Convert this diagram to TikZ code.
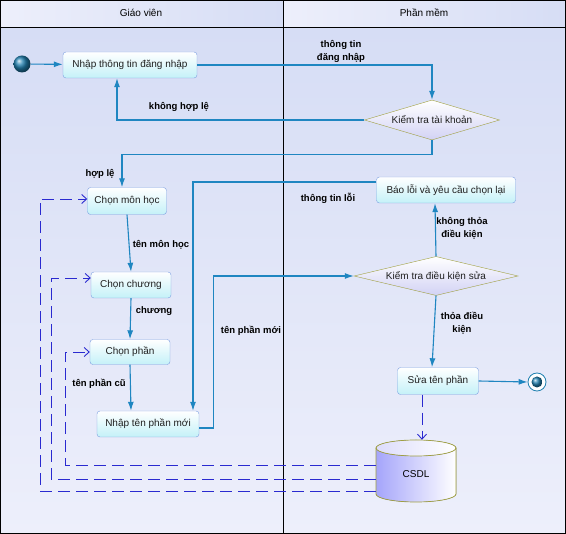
\documentclass[tikz,border=0pt]{standalone}
\usepackage{fontspec}
\setmainfont{Liberation Sans}
\usetikzlibrary{arrows.meta,shapes.geometric,calc}
\definecolor{flowc}{HTML}{1F86C1}
\definecolor{depc}{HTML}{2A2AD0}
\definecolor{actborder}{HTML}{7B9EE0}
\definecolor{actfill}{HTML}{C4F1F8}
\definecolor{decborder}{HTML}{A0A040}
\definecolor{decfill}{HTML}{D2D2F4}
\definecolor{lanetop}{HTML}{D6DDF5}
\definecolor{lanebot}{HTML}{EDEFFB}
\definecolor{startc}{HTML}{2080B0}
\begin{document}
\begin{tikzpicture}[x=1pt,y=-1pt,
  every node/.style={font=\fontsize{10}{12}\selectfont},
  act/.style={draw=actborder, rounded corners=3pt, top color=white, bottom color=actfill,
    minimum height=26pt, inner sep=2pt, text=black!88},
  dec/.style={diamond, draw=decborder, top color=white, bottom color=decfill,
    inner sep=0pt, aspect=4, text=black!88},
  flow/.style={draw=flowc, line width=1.1pt, -{Latex[length=9pt,width=6pt]}},
  dep/.style={draw=depc, line width=0.9pt, dash pattern=on 12pt off 6pt,
    -{Straight Barb[length=5pt,width=9pt,line width=0.9pt]}},
  lbl/.style={align=center, text=black, inner sep=1pt, font=\fontsize{9.5}{13}\selectfont\bfseries}]
\useasboundingbox (0,0) rectangle (566,534);
% lanes
\shade[top color=lanetop, bottom color=lanebot] (0,27) rectangle (283,534);
\shade[top color=lanetop, bottom color=lanebot] (283,27) rectangle (566,534);
\shade[left color=lanebot, right color=lanetop] (0,0) rectangle (283,27);
\shade[left color=lanebot, right color=lanetop] (283,0) rectangle (566,27);
\draw[line width=0.8pt] (0.4,0.4) rectangle (565.6,533.6);
\draw[line width=0.8pt] (0,27) -- (566,27);
\draw[line width=0.8pt] (283,0) -- (283,534);
\node (h1) at (141,13) {Giáo viên};
\node (h2) at (424,13) {Phần mềm};

% start / end
\shade[ball color=startc] (22,64) circle (8.5);
\node[circle, minimum size=17pt, inner sep=0pt] (start) at (22,64) {};
\node[circle, draw=startc, line width=0.8pt, fill=white, minimum size=18pt, inner sep=0pt] (end) at (537,382) {};
\shade[ball color=startc] (537,382) circle (5.5);

% activities
\node[act, minimum width=134pt] (login) at (130,65) {Nhập thông tin đăng nhập};
\node[dec, aspect=3.4, minimum width=135pt, minimum height=40pt] (chk1) at (432,120) {Kiểm tra tài khoản};
\node[act, minimum width=79pt, minimum height=27pt] (monhoc) at (127,201) {Chọn môn học};
\node[act, minimum width=80pt] (chuong) at (131,285) {Chọn chương};
\node[act, minimum width=80pt, minimum height=25pt] (phan) at (130,352) {Chọn phần};
\node[act, minimum width=102pt] (nhapmoi) at (148,424) {Nhập tên phần mới};
\node[act, minimum width=139pt] (baoloi) at (446,190) {Báo lỗi và yêu cầu chọn lại};
\node[dec, aspect=4.2, minimum width=164pt, minimum height=39pt] (chk2) at (436,276) {Kiểm tra điều kiện sửa};
\node[act, minimum width=81pt, minimum height=27pt] (sua) at (438,381) {Sửa tên phần};

% database
\fill[left color=decfill!60!blue!70!white, right color=white] (376,448) -- (376,494) arc[start angle=180,end angle=360,x radius=40,y radius=-8] -- (456,448) -- cycle;
\fill[left color=decfill!80!blue!40!white, right color=white] (416,448) ellipse[x radius=40, y radius=8];
\draw[decborder, line width=0.7pt] (416,448) ellipse[x radius=40, y radius=8];
\draw[decborder, line width=0.7pt] (376,448) -- (376,494) arc[start angle=180,end angle=360,x radius=40,y radius=-8] -- (456,448);
\node[minimum width=80pt, minimum height=62pt, inner sep=0pt] (csdl) at (416,471) {};
\node at (416,474) {CSDL};

% control flows
\draw[flow] (start) -- (login);
\draw[flow] (login.east) -| (chk1.north);
\node[lbl] at (341,51) {thông tin\\đăng nhập};
\draw[flow] (chk1.west) -| ([xshift=-13pt]login.south);
\node[lbl] at (179,107) {không hợp lệ};
\draw[flow] (chk1.south) -- ++(0,14) -| ([xshift=-5pt]monhoc.north);
\node[lbl] at (100,174) {hợp lệ};
\draw[flow] (monhoc.south) -- (chuong.north);
\node[lbl] at (161,245) {tên môn học};
\draw[flow] (chuong.south) -- (phan.north);
\node[lbl] at (154,311) {chương};
\draw[flow] (phan.south) -- ([xshift=-17pt]nhapmoi.north);
\node[lbl] at (99,384) {tên phần cũ};
\draw[flow] ([yshift=8pt]baoloi.west) -| ([xshift=45pt]nhapmoi.north);
\node[lbl] at (328,198) {thông tin lỗi};
\draw[flow] ([yshift=-4pt]nhapmoi.east) -- ++(14,0) |- (chk2.west);
\node[lbl] at (251,331) {tên phần mới};
\draw[flow] (chk2.north) -- ([xshift=-11pt]baoloi.south);
\node[lbl] at (462,228) {không thỏa\\điều kiện};
\draw[flow] (chk2.south) -- ([xshift=-6pt]sua.north);
\node[lbl] at (462,323) {thỏa điều\\kiện};
\draw[flow] (sua.east) -- (end.west);

% object flows
\draw[dep] ([xshift=-16pt]sua.south) -- ([xshift=6pt]csdl.north);
\draw[dep] (csdl.west |- 0,465) -- (65,465) |- (phan.west);
\draw[dep] (csdl.west |- 0,479) -- (51,479) |- ([yshift=7pt]chuong.west);
\draw[dep] (csdl.west |- 0,491) -- (40,491) |- ([yshift=2pt]monhoc.west);
\end{tikzpicture}
\end{document}
